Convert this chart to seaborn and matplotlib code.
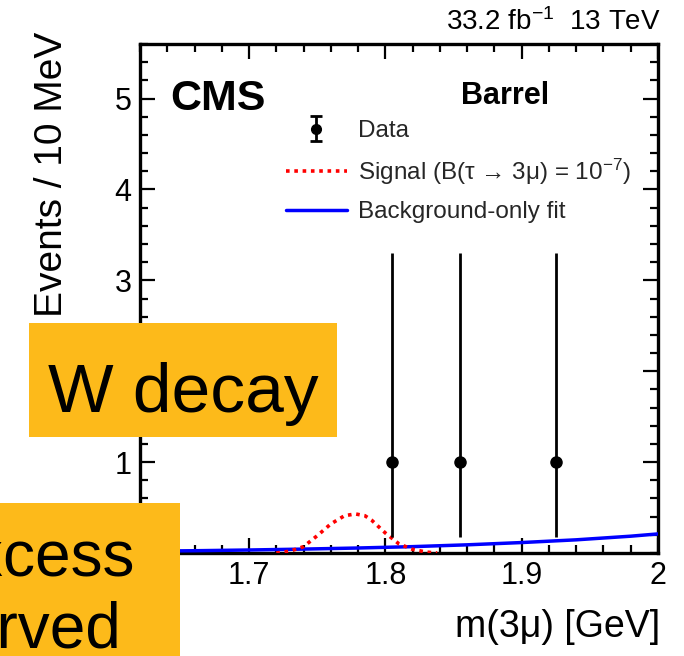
import numpy as np
import matplotlib
matplotlib.use("Agg")
import matplotlib.pyplot as plt
from matplotlib.patches import Rectangle
import seaborn as sns

# Observed events per 10 MeV bin (Barrel category)
bin_centers = [1.805, 1.855, 1.925]
counts = [1, 1, 1]
err_low = [0.827, 0.827, 0.827]
err_high = [2.3, 2.3, 2.3]

# Background-only fit curve
bkg_mass = [1.62, 1.66, 1.70, 1.74, 1.78, 1.82, 1.86, 1.90, 1.94, 1.98, 2.00]
bkg_yield = [0.020, 0.025, 0.033, 0.043, 0.055, 0.070, 0.090, 0.115, 0.145, 0.185, 0.210]

# Signal shape for B(tau -> 3mu) = 1e-7
sig_mass = [1.72, 1.73, 1.74, 1.75, 1.76, 1.77, 1.778, 1.785, 1.79, 1.80, 1.81, 1.82, 1.83, 1.838]
sig_yield = [0.0, 0.02, 0.07, 0.19, 0.32, 0.41, 0.43, 0.41, 0.36, 0.22, 0.10, 0.04, 0.01, 0.0]

x_ticks = [1.7, 1.8, 1.9, 2.0]
x_tick_labels = ["1.7", "1.8", "1.9", "2"]
y_ticks = [1, 2, 3, 4, 5]
y_tick_labels = ["1", "2", "3", "4", "5"]

sig_label = "Signal (B(τ → 3μ) = 10$^{\\mathrm{-7}}$)"
bkg_label = "Background-only fit"

sns.set_theme(style="ticks")
plt.rcParams["font.family"] = ["Liberation Sans", "DejaVu Sans"]
plt.rcParams["mathtext.fontset"] = "custom"
plt.rcParams["mathtext.rm"] = "Liberation Sans"
plt.rcParams["mathtext.it"] = "Liberation Sans:italic"
plt.rcParams["mathtext.bf"] = "Liberation Sans:bold"
plt.rcParams["axes.unicode_minus"] = False

W, H = 684, 656
fig = plt.figure(figsize=(W / 100, H / 100), dpi=100)
fig.patch.set_facecolor("white")
ax = fig.add_axes([140 / W, (H - 553) / H, (658 - 140) / W, (553 - 44) / H])
ax.set_facecolor("white")

sns.lineplot(x=bkg_mass, y=bkg_yield, ax=ax, color="#0000ff", lw=2.5,
             estimator=None, sort=False, label=bkg_label, zorder=3)
sns.lineplot(x=sig_mass, y=sig_yield, ax=ax, color="#ff0000", lw=2.6,
             linestyle=(0, (1, 1.3)), estimator=None, sort=False,
             label=sig_label, zorder=3)
ax.errorbar(bin_centers, counts, yerr=[err_low, err_high], fmt="o",
            color="black", ms=8, lw=2.0, capsize=0, zorder=4)
# legend entry for the data, drawn with end caps
data_key = ax.errorbar([np.nan], [np.nan], yerr=[[np.nan], [np.nan]], fmt="o",
                       color="black", ms=7, lw=2.0, capsize=4, capthick=2.0)

ax.set_xlim(1.62, 2.0)
ax.set_ylim(0, 5.6)
ax.set_xticks(x_ticks)
ax.set_xticklabels(x_tick_labels)
ax.set_yticks(y_ticks)
ax.set_yticklabels(y_tick_labels)
ax.xaxis.set_minor_locator(matplotlib.ticker.MultipleLocator(0.02))
ax.yaxis.set_minor_locator(matplotlib.ticker.MultipleLocator(0.2))
ax.tick_params(which="both", direction="in", top=True, right=True, width=1.6,
               color="black", labelsize=22, labelcolor="black")
ax.tick_params(which="major", length=11, pad=6)
ax.tick_params(which="minor", length=6)
for s in ax.spines.values():
    s.set_linewidth(2.4)
    s.set_color("black")

ax.set_xlabel("m(3μ) [GeV]", fontsize=27, loc="right", color="black")
ax.set_ylabel("Events / 10 MeV", fontsize=28, loc="top", color="black")
ax.xaxis.set_label_coords(1.005, -0.11)
ax.yaxis.set_label_coords(-0.135, 1.025)

# Legend in ROOT style
handles, labels = ax.get_legend_handles_labels()
lookup = dict(zip(labels, handles))
leg = ax.legend([data_key, lookup[sig_label], lookup[bkg_label]],
                ["Data", sig_label, bkg_label],
                loc="upper left", bbox_to_anchor=(286 / W, (H - 120) / H),
                bbox_transform=fig.transFigure, frameon=False, fontsize=17.5,
                handlelength=2.5, handletextpad=0.45, labelspacing=0.6,
                borderpad=0, borderaxespad=0)

ax.text((170 - 140) / 518, 1 - (110 - 44) / 509, "CMS", transform=ax.transAxes,
        fontsize=31, fontweight="bold", ha="left", va="baseline", color="black")
ax.text((505 - 140) / 518, 1 - (104 - 44) / 509, "Barrel", transform=ax.transAxes,
        fontsize=22, fontweight="bold", ha="center", va="baseline", color="black")
fig.text(661 / W, (H - 22) / H, "33.2 fb$^{\\mathrm{-1}}$  13 TeV", fontsize=20,
         ha="right", va="center", color="black")

# Highlight boxes drawn on top of the figure
box_color = "#fdba1a"
fig.add_artist(Rectangle((29 / W, (H - 437) / H), 308 / W, 114 / H,
                         transform=fig.transFigure, facecolor=box_color,
                         edgecolor="none", zorder=10))
fig.text(183 / W, (H - 412) / H, "W decay", fontsize=50, ha="center",
         va="baseline", color="black", zorder=11)
fig.add_artist(Rectangle((0, 0), 180 / W, (H - 503) / H,
                         transform=fig.transFigure, facecolor=box_color,
                         edgecolor="none", zorder=10))
fig.text(134 / W, (H - 575) / H, "No excess", fontsize=46, ha="right",
         va="baseline", color="black", zorder=11)
fig.text(121 / W, (H - 648) / H, "observed", fontsize=46, ha="right",
         va="baseline", color="black", zorder=11)

fig.savefig("out.png", dpi=100)
